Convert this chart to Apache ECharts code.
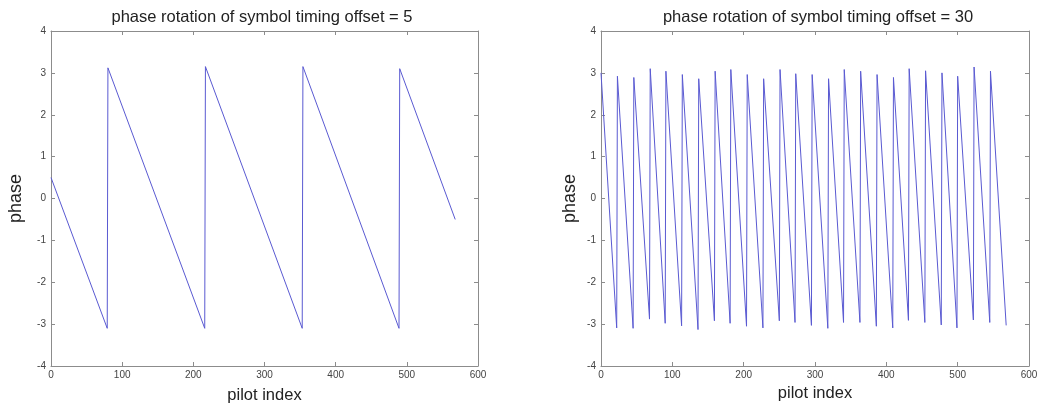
<!DOCTYPE html>
<html>
<head>
<meta charset="utf-8">
<title>phase rotation of symbol timing offset</title>
<script src="https://cdn.jsdelivr.net/npm/echarts@6/dist/echarts.min.js"></script>
<style>
  html, body { margin: 0; padding: 0; background: #ffffff; }
  #chart { width: 1042px; height: 410px; }
</style>
</head>
<body>
<div id="chart"></div>
<script>
// Vertices of the wrapped phase (pilot index, phase in rad); the trace is straight between them.
const offset5Index = [0, 79, 80, 216, 217, 353, 354, 489, 490, 568];
const offset5Phase = [0.5, -3.1, 3.12, -3.1, 3.15, -3.1, 3.15, -3.1, 3.1, -0.5];

// Offset 30: start point, then (trough, next crest) pairs, then end point.
const offset30Troughs = [22, 45, 68, 90, 113, 136, 159, 181, 204, 227, 250, 272,
                         295, 318, 340, 363, 386, 409, 431, 454, 477, 499, 522, 545];
const offset30TroughPhase = [-3.09, -3.1, -2.88, -2.98, -3.04, -3.13, -2.92, -2.98, -3.05, -3.09, -2.92, -2.96,
                             -3.03, -3.1, -2.96, -2.96, -3.05, -3.09, -2.91, -2.96, -3.02, -3.09, -2.9, -2.96];
const offset30Crests = [23, 46, 69, 91, 114, 137, 160, 182, 205, 228, 251, 273,
                        296, 319, 341, 364, 387, 410, 432, 455, 478, 500, 523, 546];
const offset30CrestPhase = [2.92, 2.89, 3.1, 3.04, 2.96, 2.86, 3.04, 3.08, 2.96, 2.86, 3.08, 2.98,
                            2.96, 2.86, 3.08, 3.04, 2.96, 2.89, 3.1, 3.05, 3.0, 2.92, 3.14, 3.04];
const offset30Start = [0, 3.0];
const offset30End = [568, -3.03];

const titles = ['phase rotation of symbol timing offset = 5', 'phase rotation of symbol timing offset = 30'];
const xName = 'pilot index';
const yName = 'phase';
const xMin = 0, xMax = 600, xStep = 100;
const yMin = -4, yMax = 4, yStep = 1;

const seriesA = offset5Index.map((x, i) => [x, offset5Phase[i]]);
const seriesB = [offset30Start];
offset30Troughs.forEach((x, i) => {
  seriesB.push([x, offset30TroughPhase[i]]);
  seriesB.push([offset30Crests[i], offset30CrestPhase[i]]);
});
seriesB.push(offset30End);

const FONT = '"Liberation Sans", Arial, Helvetica, sans-serif';
const frameColor = '#8c8c8c';
const traceColor = '#5a5ad2';

function xAxisPair(gridIndex, nameGap) {
  const base = {
    type: 'value', gridIndex, min: xMin, max: xMax, interval: xStep,
    axisLine: { show: true, onZero: false, lineStyle: { color: frameColor, width: 1 } },
    axisTick: { show: true, inside: true, length: 4, lineStyle: { color: frameColor } },
    splitLine: { show: false }
  };
  return [
    Object.assign({}, base, {
      position: 'bottom',
      axisLabel: { show: true, color: '#444', fontSize: 10, fontFamily: FONT, margin: 4 },
      name: xName, nameLocation: 'middle', nameGap,
      nameTextStyle: { color: '#222', fontSize: 16.5, fontFamily: FONT }
    }),
    Object.assign({}, base, { position: 'top', axisLabel: { show: false } })
  ];
}

function yAxisPair(gridIndex, nameGap) {
  const base = {
    type: 'value', gridIndex, min: yMin, max: yMax, interval: yStep,
    axisLine: { show: true, onZero: false, lineStyle: { color: frameColor, width: 1 } },
    axisTick: { show: true, inside: true, length: 4, lineStyle: { color: frameColor } },
    splitLine: { show: false }
  };
  return [
    Object.assign({}, base, {
      position: 'left',
      axisLabel: { show: true, color: '#444', fontSize: 10, fontFamily: FONT, margin: 5 },
      name: yName, nameLocation: 'middle', nameGap, nameRotate: 90,
      nameTextStyle: { color: '#222', fontSize: 18, fontFamily: FONT }
    }),
    Object.assign({}, base, { position: 'right', axisLabel: { show: false } })
  ];
}

const chart = echarts.init(document.getElementById('chart'), null, { renderer: 'canvas' });
chart.setOption({
  backgroundColor: '#ffffff',
  animation: false,
  title: [
    { text: titles[0], left: 257, top: 4, textAlign: 'center',
      textStyle: { color: '#222', fontSize: 16.5, fontWeight: 'normal', fontFamily: FONT } },
    { text: titles[1], left: 813, top: 4, textAlign: 'center',
      textStyle: { color: '#222', fontSize: 16.5, fontWeight: 'normal', fontFamily: FONT } }
  ],
  grid: [
    { left: 51, top: 31, width: 427, height: 335 },
    { left: 601, top: 31, width: 428, height: 335 }
  ],
  xAxis: [...xAxisPair(0, 21), ...xAxisPair(1, 17)],
  yAxis: [...yAxisPair(0, 26), ...yAxisPair(1, 22)],
  series: [
    { type: 'line', xAxisIndex: 0, yAxisIndex: 0, data: seriesA, showSymbol: false,
      lineStyle: { color: traceColor, width: 1 }, silent: true },
    { type: 'line', xAxisIndex: 2, yAxisIndex: 2, data: seriesB, showSymbol: false,
      lineStyle: { color: traceColor, width: 1 }, silent: true }
  ]
});
</script>
</body>
</html>
